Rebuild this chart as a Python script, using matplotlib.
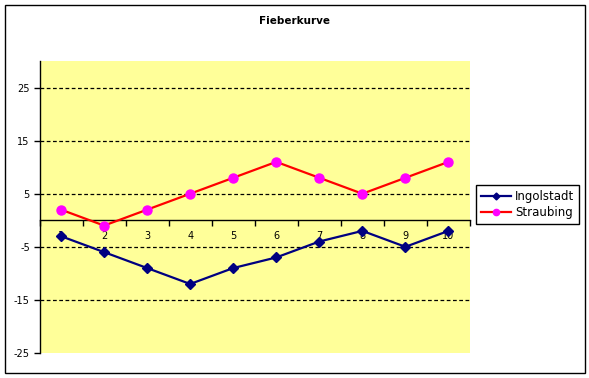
import matplotlib
matplotlib.use("Agg")
import matplotlib.pyplot as plt
from matplotlib.patches import Rectangle
from matplotlib.lines import Line2D
import numpy as np

categories = [1, 2, 3, 4, 5, 6, 7, 8, 9, 10]
ingolstadt = [-3, -6, -9, -12, -9, -7, -4, -2, -5, -2]
straubing = [2, -1, 2, 5, 8, 11, 8, 5, 8, 11]
y_ticks = [-25, -15, -5, 5, 15, 25]
title = "Fieberkurve"

plt.rcParams['font.family'] = ['DejaVu Sans']
W, H = 589, 378
fig = plt.figure(figsize=(W / 100, H / 100), dpi=100)

# outer border
fig.patches.append(Rectangle((5 / W, 5 / H), 580 / W, 368 / H, transform=fig.transFigure,
                             fill=False, edgecolor='black', linewidth=1.0))

L, R, T, B = 39.5, 470, 61, 353
ax = fig.add_axes([L / W, (H - B) / H, (R - L) / W, (B - T) / H])
ax.set_facecolor('#FFFF99')
x = np.arange(1, len(categories) + 1)
ax.set_xlim(0.5, len(categories) + 0.5)
ax.set_ylim(-25, 30)

for g in y_ticks[1:]:
    ax.axhline(g, color='black', linestyle=(0, (3, 2)), linewidth=0.9, zorder=1)

navy, red, magenta = '#000080', '#FF0000', '#FF00FF'
ax.plot(x, ingolstadt, color=navy, linewidth=1.6, marker='D', markersize=5.5,
        markerfacecolor=navy, markeredgecolor=navy, zorder=3)
ax.plot(x, straubing, color=red, linewidth=1.6, marker='o', markersize=6.5,
        markerfacecolor=magenta, markeredgecolor=magenta, zorder=3)

for s in ['top', 'right']:
    ax.spines[s].set_visible(False)
ax.spines['bottom'].set_position(('data', 0))
ax.spines['left'].set_linewidth(1.0)
ax.spines['bottom'].set_linewidth(1.0)

ax.set_yticks(y_ticks)
ax.set_yticklabels([str(v) for v in y_ticks], fontsize=7)
ax.tick_params(axis='y', direction='out', length=4, width=1, pad=3)

ax.set_xticks(np.arange(0.5, len(categories) + 1, 1.0))
ax.set_xticklabels([])
ax.tick_params(axis='x', which='major', direction='out', length=4, width=1)
ax.set_xticks(x, minor=True)
ax.set_xticklabels([str(c) for c in categories], minor=True, fontsize=7)
ax.tick_params(axis='x', which='minor', length=0, pad=8)

fig.text(295 / W, 1 - 21 / H, title, ha='center', va='center', fontsize=7.5, fontweight='bold')

handles = [
    Line2D([], [], color=navy, linewidth=1.6, marker='D', markersize=3.5,
           markerfacecolor=navy, markeredgecolor=navy),
    Line2D([], [], color=red, linewidth=1.6, marker='o', markersize=4.5,
           markerfacecolor=magenta, markeredgecolor=magenta),
]
leg = fig.legend(handles, ['Ingolstadt', 'Straubing'], loc='upper left',
                 bbox_to_anchor=(476 / W, 1 - 185 / H), fontsize=8.5,
                 frameon=True, fancybox=False, edgecolor='black', framealpha=1,
                 borderpad=0.4, handlelength=2.6, handletextpad=0.3, labelspacing=0.3,
                 borderaxespad=0)
leg.get_frame().set_linewidth(1.0)

fig.savefig('out.png', dpi=100)
